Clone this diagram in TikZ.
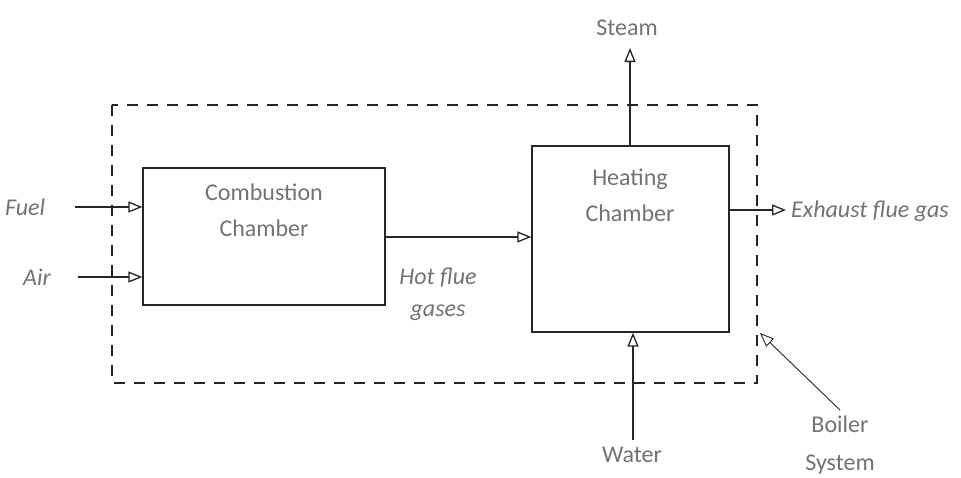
\documentclass[tikz,border=0pt]{standalone}
\usepackage{fontspec}
\setmainfont{Carlito}
\usetikzlibrary{arrows.meta}
\begin{document}
\begin{tikzpicture}[x=1pt,y=-1pt,
  line/.style={draw=black!85, line width=1.3pt},
  flow/.style={line, -{Triangle[open,length=14pt,width=11pt]}},
  block/.style={draw=black!85, line width=1.3pt, fill=white, inner sep=0pt},
  lbl/.style={text=black!55, font=\fontsize{24}{36}\selectfont, inner sep=1pt},
  ilbl/.style={lbl, font=\fontsize{24}{32}\selectfont\itshape}]
\clip (0,0) rectangle (961,477);
\fill[white] (0,0) rectangle (961,477);

% system boundary
\draw[black!85, line width=1.3pt, dash pattern=on 11pt off 9pt] (112,105) rectangle (757,383);

% chambers
\node[block, minimum width=242pt, minimum height=137pt] (comb) at (264,236.5) {};
\node[block, minimum width=197pt, minimum height=186pt] (heat) at (630.5,239) {};
\node[lbl, align=center] at (264,210) {Combustion\\Chamber};
\node[lbl, align=center] at (630,195) {Heating\\Chamber};

% inputs
\coordinate (fuelS) at (75,207);
\coordinate (airS) at (78,277);
\node[ilbl, anchor=west] (fuel) at (4,207) {Fuel};
\node[ilbl, anchor=west] (air) at (22,277) {Air};
\draw[flow] (fuelS) -- (fuelS -| comb.west);
\draw[flow] (airS) -- (airS -| comb.west);

% hot flue gases
\coordinate (hotS) at (comb.east |- 0,237);
\draw[flow] (hotS) -- (hotS -| heat.west);
\node[ilbl, align=center] (hot) at (438,294) {Hot flue\\gases};

% steam
\node[lbl] (steam) at (627,28) {Steam};
\coordinate (steamE) at (630,48);
\draw[flow] (heat.north -| steamE) -- (steamE);

% exhaust
\coordinate (exhS) at (heat.east |- 0,210);
\coordinate (exhE) at (786,210);
\draw[flow] (exhS) -- (exhE);
\node[ilbl, anchor=west] (exh) at (790,211) {Exhaust flue gas};

% water
\node[lbl] (water) at (632,455) {Water};
\coordinate (waterS) at (633,440);
\draw[flow] (waterS) -- (waterS |- heat.south);

% boiler system label
\node[lbl, align=center, font=\fontsize{24}{38}\selectfont] (boiler) at (840,445) {Boiler\\System};
\coordinate (bS) at (840,410);
\coordinate (bE) at (760,333);
\draw[flow, line width=0.9pt] (bS) -- (bE);
\end{tikzpicture}
\end{document}
